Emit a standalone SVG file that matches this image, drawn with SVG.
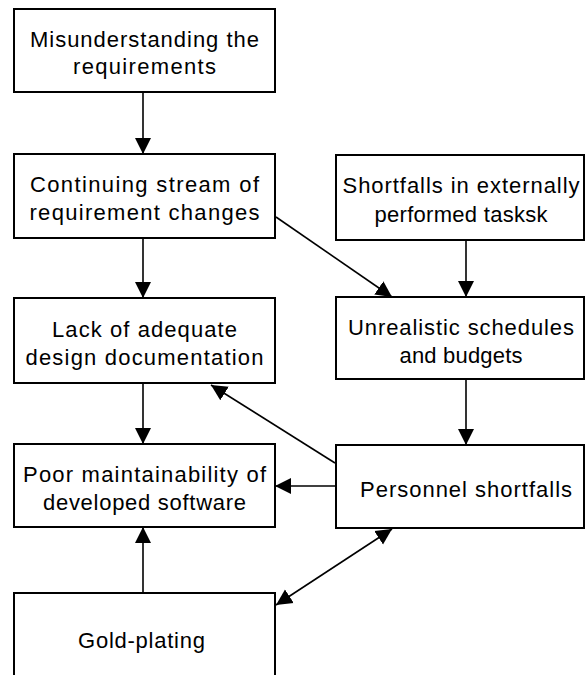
<svg xmlns="http://www.w3.org/2000/svg" width="585" height="675" viewBox="0 0 585 675">
  <style>
    .box { fill: #ffffff; stroke: #000000; stroke-width: 2; }
    .lbl { font-family: "Liberation Sans", Arial, sans-serif; font-size: 22px; fill: #000000; text-anchor: middle; }
    .edge { fill: none; stroke: #000000; stroke-width: 1.6; }
  </style>
  <defs>
    <marker id="arrow" markerUnits="userSpaceOnUse" markerWidth="17" markerHeight="17" viewBox="0 0 17 17" refX="16" refY="8.5" orient="auto-start-reverse">
      <path d="M0,0.5 L16,8.5 L0,16.5 z" fill="#000000"/>
    </marker>
  </defs>
  <rect width="585" height="675" fill="#ffffff"/>

  <!-- connectors -->
  <g id="connectors">
    <line class="edge" x1="143" y1="92" x2="143" y2="154" marker-end="url(#arrow)"/>
    <line class="edge" x1="143" y1="238" x2="143" y2="298" marker-end="url(#arrow)"/>
    <line class="edge" x1="143" y1="383" x2="143" y2="444" marker-end="url(#arrow)"/>
    <line class="edge" x1="143" y1="593" x2="143" y2="527" marker-end="url(#arrow)"/>
    <line class="edge" x1="466" y1="240" x2="466" y2="297" marker-end="url(#arrow)"/>
    <line class="edge" x1="466" y1="379" x2="466" y2="445" marker-end="url(#arrow)"/>
    <line class="edge" x1="276" y1="217" x2="392" y2="297" marker-end="url(#arrow)"/>
    <line class="edge" x1="335" y1="463" x2="211" y2="385" marker-end="url(#arrow)"/>
    <line class="edge" x1="335" y1="486" x2="275" y2="486" marker-end="url(#arrow)"/>
    <line class="edge" x1="392" y1="529" x2="276" y2="605" marker-start="url(#arrow)" marker-end="url(#arrow)"/>
  </g>

  <!-- nodes -->
  <g id="misunderstanding">
    <rect class="box" x="14" y="9" width="261" height="83"/>
    <text class="lbl" x="144.5" y="47" textLength="229" lengthAdjust="spacing">Misunderstanding the</text>
    <text class="lbl" x="144.5" y="74" textLength="143" lengthAdjust="spacing">requirements</text>
  </g>
  <g id="continuing">
    <rect class="box" x="14" y="154" width="261" height="84"/>
    <text class="lbl" x="144.5" y="192" textLength="229" lengthAdjust="spacing">Continuing stream of</text>
    <text class="lbl" x="144.5" y="220" textLength="230" lengthAdjust="spacing">requirement changes</text>
  </g>
  <g id="shortfalls-external">
    <rect class="box" x="336" y="155" width="248" height="85"/>
    <text class="lbl" x="461" y="193" textLength="237" lengthAdjust="spacing">Shortfalls in externally</text>
    <text class="lbl" x="461" y="222" textLength="173" lengthAdjust="spacing">performed tasksk</text>
  </g>
  <g id="lack-documentation">
    <rect class="box" x="14" y="298" width="261" height="85"/>
    <text class="lbl" x="144.5" y="337" textLength="185" lengthAdjust="spacing">Lack of adequate</text>
    <text class="lbl" x="144.5" y="365" textLength="238" lengthAdjust="spacing">design documentation</text>
  </g>
  <g id="unrealistic">
    <rect class="box" x="336" y="297" width="248" height="82"/>
    <text class="lbl" x="461" y="335" textLength="226" lengthAdjust="spacing">Unrealistic schedules</text>
    <text class="lbl" x="461" y="363" textLength="123" lengthAdjust="spacing">and budgets</text>
  </g>
  <g id="poor-maintainability">
    <rect class="box" x="14" y="444" width="261" height="83"/>
    <text class="lbl" x="144.5" y="482" textLength="243" lengthAdjust="spacing">Poor maintainability of</text>
    <text class="lbl" x="144.5" y="510" textLength="203" lengthAdjust="spacing">developed software</text>
  </g>
  <g id="personnel">
    <rect class="box" x="336" y="445" width="248" height="83"/>
    <text class="lbl" x="466" y="497" textLength="212" lengthAdjust="spacing">Personnel shortfalls</text>
  </g>
  <g id="gold-plating">
    <rect class="box" x="14" y="593" width="261" height="100"/>
    <text class="lbl" x="141.5" y="648" textLength="127" lengthAdjust="spacing">Gold-plating</text>
  </g>
</svg>
